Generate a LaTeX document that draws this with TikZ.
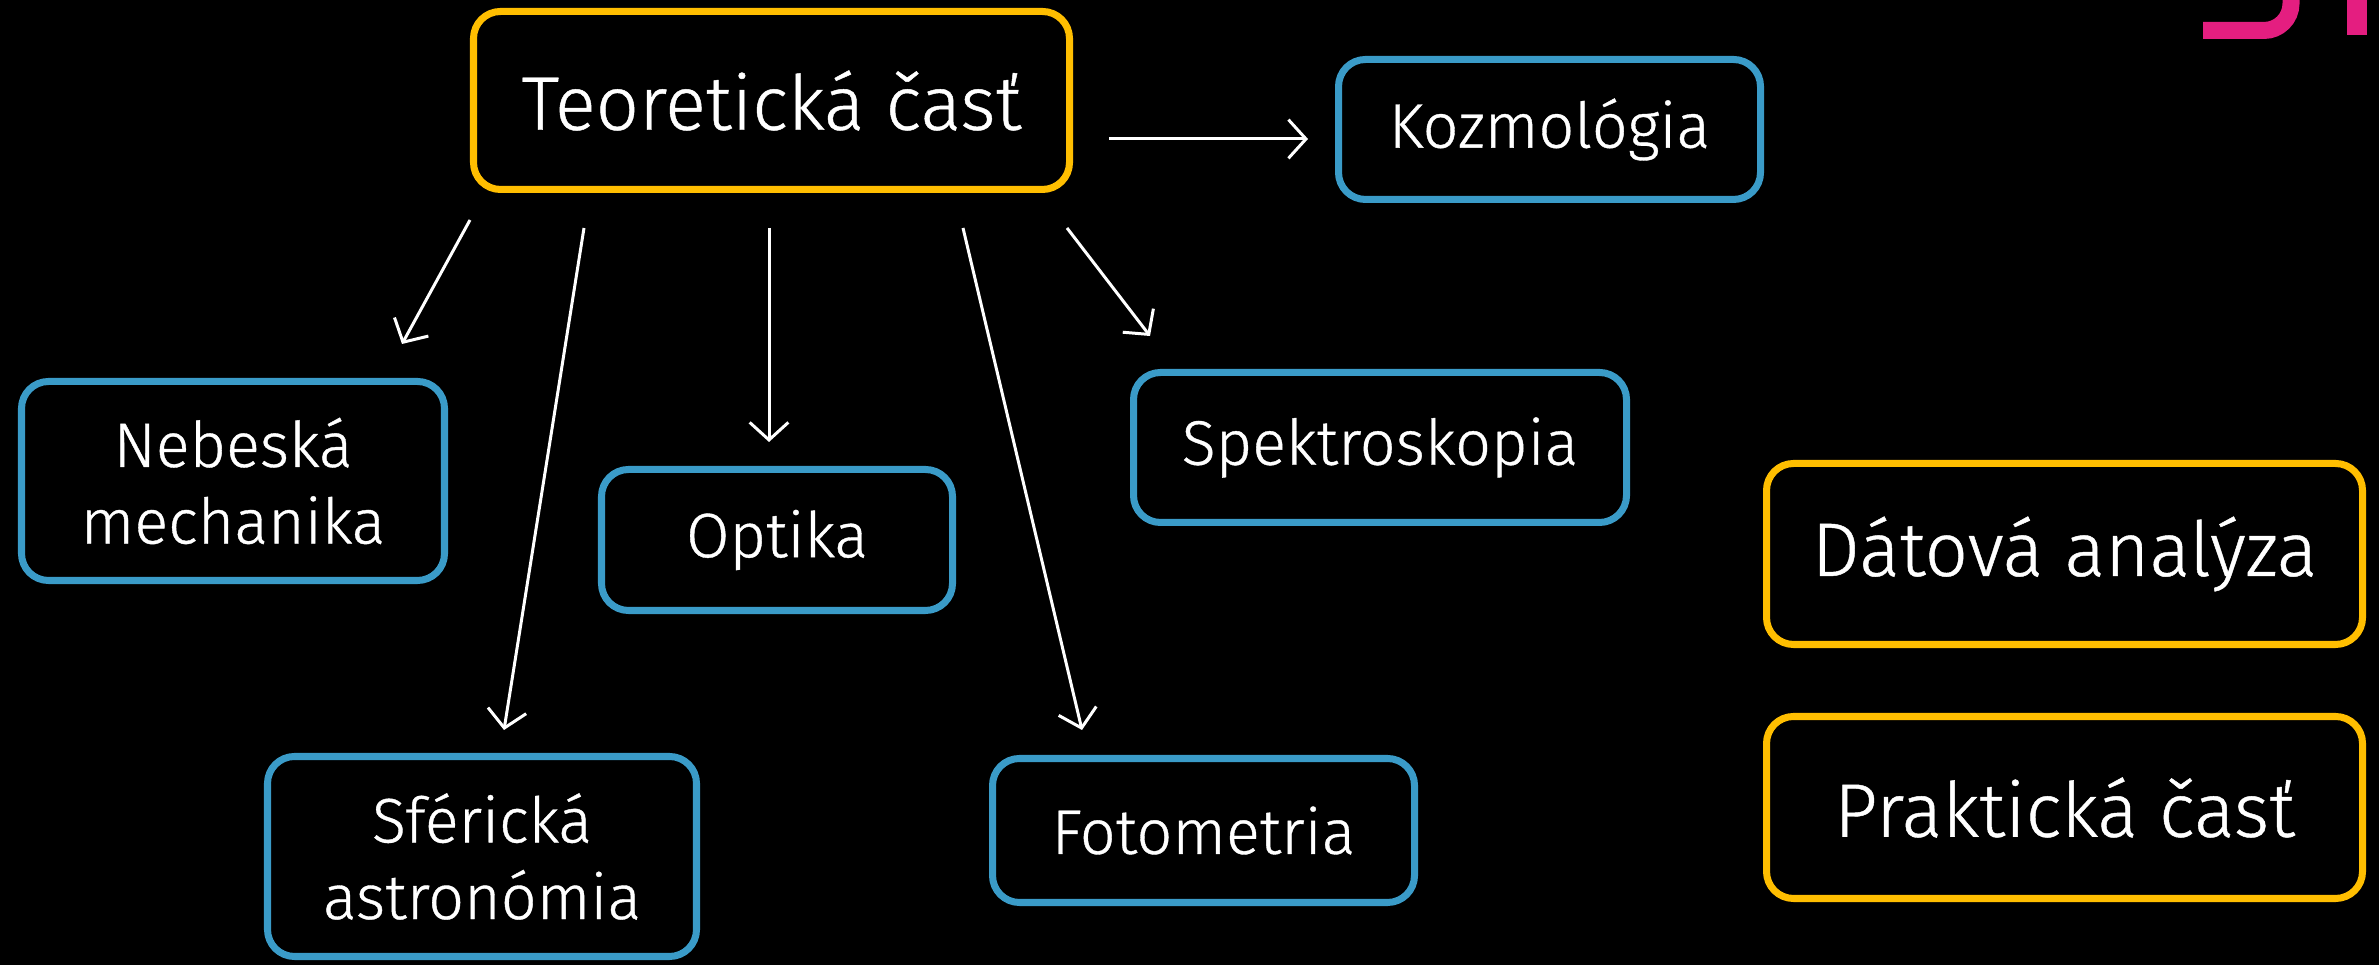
\documentclass[tikz,border=0pt]{standalone}
\usepackage{fontspec}
\setmainfont{Fira Sans}[UprightFont=* Light, UprightFeatures={FakeBold=0.6}]
\usetikzlibrary{arrows.meta}
\definecolor{boxyellow}{RGB}{255,190,0}
\definecolor{boxblue}{RGB}{58,155,200}
\definecolor{logopink}{RGB}{228,30,128}
\tikzset{
  basebox/.style={draw, line width=2pt, rounded corners=0.27cm, fill=black, text=white, align=center, inner sep=0pt},
  bigbox/.style={basebox, draw=boxyellow, font=\fontsize{21.6}{26}\selectfont},
  bluebox/.style={basebox, draw=boxblue, font=\fontsize{17.9}{21.8}\selectfont},
  link/.style={draw=white, line width=0.85pt, -{Straight Barb[length=5pt, width=11pt, line width=0.85pt]}}
}
\begin{document}
\begin{tikzpicture}
\fill[black] (0,0) rectangle (23.79,9.65);
\useasboundingbox (0,0) rectangle (23.79,9.65);
% partial logo glyphs
\begin{scope}
\clip (0,0) rectangle (23.79,9.65);
\draw[logopink, line width=0.17cm] (22.03,9.345) -- (22.64,9.345) arc[start angle=-90, end angle=0, radius=0.27] -- (22.91,9.75);
\fill[logopink] (23.47,9.30) rectangle (23.67,9.70);
\end{scope}
% nodes
\node[bigbox, minimum width=5.96cm, minimum height=1.78cm] (teor) at (7.715,8.645) {Teoretická časť};
\node[bluebox, minimum width=4.22cm, minimum height=1.40cm] (kozmo) at (15.495,8.355) {Kozmológia};
\node[bluebox, minimum width=4.23cm, minimum height=1.99cm] (nebes) at (2.33,4.84) {Nebeská\\mechanika};
\node[bluebox, minimum width=3.51cm, minimum height=1.41cm] (optika) at (7.77,4.25) {Optika};
\node[bluebox, minimum width=4.93cm, minimum height=1.50cm] (spektro) at (13.80,5.175) {Spektroskopia};
\node[bluebox, minimum width=4.29cm, minimum height=2.00cm] (sfer) at (4.82,1.085) {Sférická\\astronómia};
\node[bluebox, minimum width=4.22cm, minimum height=1.44cm] (foto) at (12.035,1.345) {Fotometria};
\node[bigbox, minimum width=5.96cm, minimum height=1.81cm] (datova) at (20.645,4.11) {Dátová analýza};
\node[bigbox, minimum width=5.96cm, minimum height=1.82cm] (prakt) at (20.645,1.575) {Praktická časť};
% connector end points
\coordinate (k1) at (11.09,8.26);  \coordinate (k2) at (13.08,8.26);
\coordinate (n1) at (4.70,7.45);   \coordinate (n2) at (4.02,6.21);
\coordinate (s1) at (5.84,7.37);   \coordinate (s2) at (5.04,2.35);
\coordinate (o1) at (7.69,7.37);   \coordinate (o2) at (7.69,5.23);
\coordinate (f1) at (9.63,7.37);   \coordinate (f2) at (10.82,2.35);
\coordinate (p1) at (10.67,7.37);  \coordinate (p2) at (11.50,6.29);
\draw[link] (k1) -- (k2);
\draw[link] (n1) -- (n2);
\draw[link] (s1) -- (s2);
\draw[link] (o1) -- (o2);
\draw[link] (f1) -- (f2);
\draw[link] (p1) -- (p2);
\end{tikzpicture}
\end{document}
